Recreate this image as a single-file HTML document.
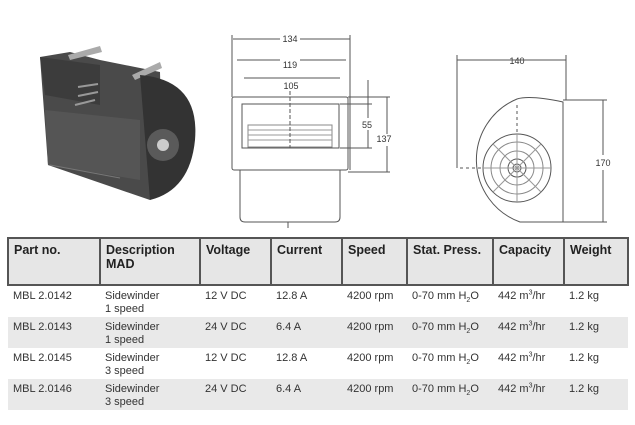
<!DOCTYPE html>
<html><head><style>
body{margin:0;width:635px;height:425px;background:#fff;overflow:hidden;font-family:"Liberation Sans",Arial,sans-serif;position:relative}
svg{position:absolute;left:0;top:0}
table{position:absolute;left:7px;top:237px;width:622px;border-collapse:collapse;font-size:11px;color:#333}
th{background:#e6e6e6;text-align:left;vertical-align:top;font-size:12.5px;font-weight:bold;color:#222;padding:4px 5px;height:37px;border-left:2px solid #555;border-top:2px solid #555;border-bottom:2px solid #555}
th:last-child{border-right:2px solid #555}
td{vertical-align:top;padding:4px 5px 0 5px;height:27px;line-height:13px}
tr.g td{background:#e9e9e9}
sup,sub{font-size:7px;line-height:0}
</style></head><body>
<svg width="635" height="235" viewBox="0 0 635 235">
<!-- photo -->
<polygon points="40,57 70,52 100,60 160,72 163,190 150,200 48,165" fill="#4a4a4a"/>
<polygon points="40,57 100,65 100,105 45,95" fill="#3c3c3c"/>
<polygon points="45,110 140,120 140,180 48,165" fill="#555"/>
<polygon points="68,55 100,46 102,52 70,60" fill="#aaa"/>
<polygon points="132,75 160,62 162,68 135,80" fill="#aaa"/>
<path d="M140,75 Q200,80 195,140 Q190,190 150,200 Z" fill="#333"/>
<circle cx="163" cy="145" r="16" fill="#5a5a5a"/>
<circle cx="163" cy="145" r="6" fill="#ccc"/>
<g stroke="#999" stroke-width="2"><line x1="78" y1="87" x2="98" y2="84"/><line x1="78" y1="96" x2="98" y2="92"/><line x1="75" y1="105" x2="95" y2="100"/></g>
<line x1="50" y1="165" x2="120" y2="178" stroke="#777"/>
<!-- middle drawing -->
<g fill="none" stroke="#555" stroke-width="1">
<rect x="232" y="97" width="116" height="73" rx="2"/>
<path d="M240,170 V217 Q240,222 245,222 H335 Q340,222 340,217 V170"/>
<rect x="242" y="104" width="97" height="44"/>
<rect x="248" y="125" width="84" height="22" stroke="#888"/>
<line x1="248" y1="130" x2="332" y2="130" stroke="#999"/><line x1="248" y1="135" x2="332" y2="135" stroke="#999"/><line x1="248" y1="140" x2="332" y2="140" stroke="#999"/>
<line x1="290" y1="85" x2="290" y2="148" stroke-dasharray="4,2"/>
<line x1="233" y1="39" x2="350" y2="39"/><line x1="237" y1="60" x2="346" y2="60"/><line x1="244" y1="78" x2="340" y2="78"/>
<line x1="232" y1="35" x2="232" y2="97"/><line x1="350" y1="35" x2="350" y2="170"/>
<line x1="348" y1="97" x2="390" y2="97"/><line x1="340" y1="104" x2="372" y2="104"/><line x1="340" y1="148" x2="372" y2="148"/><line x1="348" y1="172" x2="390" y2="172"/>
<line x1="368" y1="80" x2="368" y2="148"/><line x1="387" y1="97" x2="387" y2="172"/>
<line x1="288" y1="222" x2="288" y2="228"/>
</g>
<g font-size="9" fill="#333" text-anchor="middle">
<rect x="280" y="33" width="20" height="10" fill="#fff"/><text x="290" y="42">134</text>
<rect x="280" y="55" width="20" height="10" fill="#fff"/><text x="290" y="68">119</text>
<rect x="280" y="80" width="20" height="10" fill="#fff"/><text x="291" y="89">105</text>
<rect x="360" y="118" width="14" height="12" fill="#fff"/><text x="367" y="128">55</text>
<rect x="375" y="134" width="20" height="12" fill="#fff"/><text x="384" y="142">137</text>
<rect x="507" y="55" width="20" height="10" fill="#fff"/><text x="517" y="64">140</text>
<text x="603" y="166">170</text>
</g>
<!-- right drawing -->
<g fill="none" stroke="#555">
<path d="M563,102 Q530,95 517,99 A66,66 0 0 0 520,222 L563,222 Z"/>
<line x1="563" y1="102" x2="563" y2="222"/>
<circle cx="517" cy="168" r="34"/><circle cx="517" cy="168" r="26" stroke="#888"/><circle cx="517" cy="168" r="17" stroke="#888"/><circle cx="517" cy="168" r="9"/><circle cx="517" cy="168" r="4"/>
<g stroke="#999"><line x1="483" y1="168" x2="551" y2="168"/><line x1="517" y1="134" x2="517" y2="202"/><line x1="493" y1="144" x2="541" y2="192"/><line x1="541" y1="144" x2="493" y2="192"/></g>
<line x1="457" y1="60" x2="566" y2="60"/><line x1="457" y1="55" x2="457" y2="168"/><line x1="566" y1="55" x2="566" y2="100"/>
<line x1="563" y1="100" x2="607" y2="100"/><line x1="520" y1="222" x2="607" y2="222"/><line x1="603" y1="100" x2="603" y2="155"/><line x1="603" y1="170" x2="603" y2="222"/>
<line x1="517" y1="105" x2="517" y2="134" stroke-dasharray="3,3"/><line x1="460" y1="168" x2="483" y2="168" stroke-dasharray="3,3"/>
</g>
</svg>
<table>
<tr><th style="width:80px">Part no.</th><th style="width:88px">Description<br>MAD</th><th style="width:59px">Voltage</th><th style="width:59px">Current</th><th style="width:53px">Speed</th><th style="width:74px">Stat. Press.</th><th style="width:59px">Capacity</th><th>Weight</th></tr>
<tr><td>MBL 2.0142</td><td>Sidewinder<br>1 speed</td><td>12 V DC</td><td>12.8 A</td><td>4200 rpm</td><td>0-70 mm H<sub>2</sub>O</td><td>442 m<sup>3</sup>/hr</td><td>1.2 kg</td></tr>
<tr class="g"><td>MBL 2.0143</td><td>Sidewinder<br>1 speed</td><td>24 V DC</td><td>6.4 A</td><td>4200 rpm</td><td>0-70 mm H<sub>2</sub>O</td><td>442 m<sup>3</sup>/hr</td><td>1.2 kg</td></tr>
<tr><td>MBL 2.0145</td><td>Sidewinder<br>3 speed</td><td>12 V DC</td><td>12.8 A</td><td>4200 rpm</td><td>0-70 mm H<sub>2</sub>O</td><td>442 m<sup>3</sup>/hr</td><td>1.2 kg</td></tr>
<tr class="g"><td>MBL 2.0146</td><td>Sidewinder<br>3 speed</td><td>24 V DC</td><td>6.4 A</td><td>4200 rpm</td><td>0-70 mm H<sub>2</sub>O</td><td>442 m<sup>3</sup>/hr</td><td>1.2 kg</td></tr>
</table>
</body></html>
